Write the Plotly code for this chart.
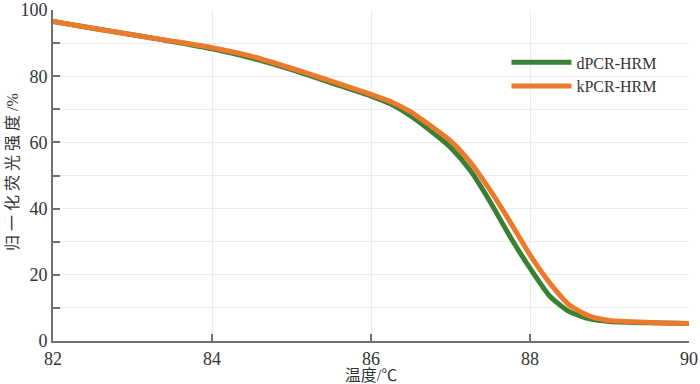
import plotly.graph_objects as go

temps = [82.0, 82.5, 83.0, 83.5, 84.0, 84.5, 85.0, 85.5, 86.0, 86.25, 86.5, 86.75,
         87.0, 87.25, 87.5, 87.75, 88.0, 88.25, 88.5, 88.75, 89.0, 89.5, 90.0]
dpcr = [96.5, 94.5, 92.5, 90.5, 88.3, 85.5, 82.0, 78.0, 74.0, 71.6, 68.0, 63.5,
        58.5, 51.5, 42.0, 31.5, 22.0, 13.5, 8.8, 6.7, 5.9, 5.5, 5.3]
kpcr = [96.5, 94.5, 92.5, 90.6, 88.6, 86.0, 82.4, 78.5, 74.5, 72.3, 69.2, 65.0,
        60.5, 54.0, 45.5, 36.0, 26.0, 17.5, 10.8, 7.5, 6.2, 5.6, 5.3]
series_names = ["dPCR-HRM", "kPCR-HRM"]
x_ticks = [82, 84, 86, 88, 90]
y_ticks = [0, 20, 40, 60, 80, 100]
x_title = "温度/℃"
y_title = "\u2005".join(["归", "一", "化", "荧", "光", "强", "度", "/%"])

GREEN = "#3b7f35"
ORANGE = "#ec7a2c"
SERIF = "Liberation Serif"
CJK = "Liberation Serif, Noto Sans CJK SC"

fig = go.Figure()
fig.add_trace(go.Scatter(x=temps, y=dpcr, mode="lines", name=series_names[0],
                         line=dict(color=GREEN, width=5, shape="spline", smoothing=0.6)))
fig.add_trace(go.Scatter(x=temps, y=kpcr, mode="lines", name=series_names[1],
                         line=dict(color=ORANGE, width=5, shape="spline", smoothing=0.6)))

axis_common = dict(showline=True, linecolor="#707070", linewidth=2,
                   ticks="inside", ticklen=7, tickcolor="#707070", tickwidth=1.5,
                   gridcolor="#ebebeb", gridwidth=1, zeroline=False, automargin=False,
                   tickfont=dict(family=SERIF, size=18, color="#333333"))

fig.update_layout(
    width=700, height=384,
    margin=dict(l=53, r=11, t=10, b=43),
    paper_bgcolor="white", plot_bgcolor="white",
    showlegend=True,
    legend=dict(x=0.713, y=0.893, xanchor="left", yanchor="top",
                font=dict(family=SERIF, size=16, color="#333333"),
                bgcolor="rgba(0,0,0,0)", tracegroupgap=0, itemwidth=60),
    xaxis=dict(range=[82, 90], tickvals=x_ticks, **axis_common,
               title=dict(text=x_title, font=dict(family=CJK, size=16, color="#333333"), standoff=0)),
    yaxis=dict(range=[0, 100], tickvals=y_ticks, **axis_common,
               minor=dict(dtick=10, tick0=0, ticks="inside", ticklen=7, tickcolor="#707070",
                          showgrid=True, gridcolor="#ebebeb")),
    annotations=[dict(text=y_title, xref="paper", yref="paper",
                      x=(12 - 53) / 636, y=(341 - 172) / 331,
                      xanchor="center", yanchor="middle", textangle=-90, showarrow=False,
                      font=dict(family=CJK, size=16, color="#333333"))],
)

fig.write_html("out.html", config={"displayModeBar": False},
               post_script="document.body.style.margin='0';document.body.style.overflow='hidden';")
